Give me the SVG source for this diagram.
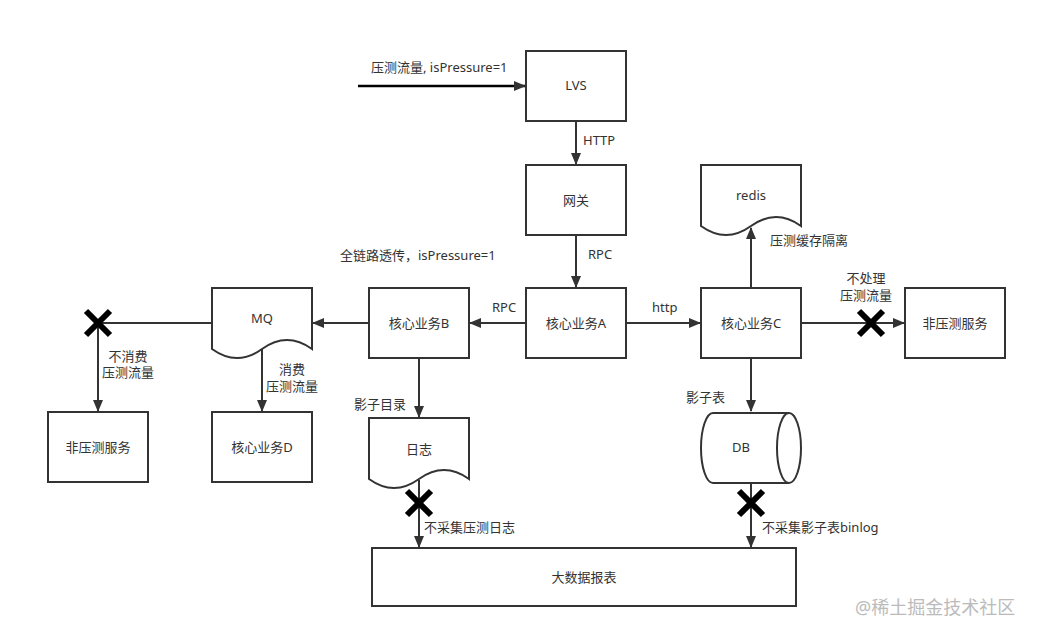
<svg xmlns="http://www.w3.org/2000/svg" width="1037" height="638" viewBox="0 0 1037 638">
<style>
.box{fill:#fff;stroke:#333;stroke-width:2}
.ln{fill:none;stroke:#333;stroke-width:2}
.x{stroke:#000;stroke-width:6;stroke-linecap:butt}
text{font-family:"Noto Sans","Noto Sans CJK SC",sans-serif;font-size:13px;fill:#333}
.c{text-anchor:middle}
.wm{font-size:18px;fill:#bbb}
</style>
<defs>
<marker id="ah" markerWidth="12" markerHeight="10" refX="11" refY="5" orient="auto" markerUnits="userSpaceOnUse">
<path d="M0,0 L12,5 L0,10 Z" fill="#333"/>
</marker>
</defs>
<rect width="1037" height="638" fill="#fff"/>
<g id="connectors">
<path class="ln" d="M358,86 H525" marker-end="url(#ah)" style="stroke:#000;stroke-width:2.5"/>
<path class="ln" d="M576,121 V164" marker-end="url(#ah)"/>
<path class="ln" d="M576,235 V287" marker-end="url(#ah)"/>
<path class="ln" d="M526,323 H470" marker-end="url(#ah)"/>
<path class="ln" d="M626,323 H700" marker-end="url(#ah)"/>
<path class="ln" d="M369,323 H313" marker-end="url(#ah)"/>
<path class="ln" d="M212,323 H98 V411" marker-end="url(#ah)"/>
<path class="ln" d="M262,349 V411" marker-end="url(#ah)"/>
<path class="ln" d="M419,358 V417" marker-end="url(#ah)"/>
<path class="ln" d="M419,480 V547" marker-end="url(#ah)"/>
<path class="ln" d="M751,358 V411" marker-end="url(#ah)"/>
<path class="ln" d="M751,483 V547" marker-end="url(#ah)"/>
<path class="ln" d="M751,288 V228" marker-end="url(#ah)"/>
<path class="ln" d="M801,323 H904" marker-end="url(#ah)"/>
<g class="x">
<path d="M86,311 L110,335 M110,311 L86,335"/>
<path d="M407,491 L431,515 M431,491 L407,515"/>
<path d="M739,491 L763,515 M763,491 L739,515"/>
<path d="M859,311 L883,335 M883,311 L859,335"/>
</g>
<text x="371" y="72">压测流量, isPressure=1</text>
<text x="583" y="145">HTTP</text>
<text x="588" y="259">RPC</text>
<text x="492" y="312">RPC</text>
<text x="652" y="312">http</text>
<text x="340" y="260">全链路透传，isPressure=1</text>
<text x="128" y="361" class="c">不消费</text>
<text x="128" y="377" class="c">压测流量</text>
<text x="292" y="374" class="c">消费</text>
<text x="292" y="391" class="c">压测流量</text>
<text x="354" y="409">影子目录</text>
<text x="424" y="532">不采集压测日志</text>
<text x="686" y="402">影子表</text>
<text x="762" y="532">不采集影子表binlog</text>
<text x="770" y="245">压测缓存隔离</text>
<text x="866" y="283" class="c">不处理</text>
<text x="866" y="300" class="c">压测流量</text>
</g>
<g id="lvs"><rect class="box" x="526" y="51" width="100" height="70"/><text x="576" y="90" class="c">LVS</text></g>
<g id="gateway"><rect class="box" x="526" y="165" width="100" height="70"/><text x="576" y="205" class="c">网关</text></g>
<g id="coreA"><rect class="box" x="526" y="288" width="100" height="70"/><text x="576" y="328" class="c">核心业务A</text></g>
<g id="coreB"><rect class="box" x="369" y="288" width="100" height="70"/><text x="419" y="328" class="c">核心业务B</text></g>
<g id="coreC"><rect class="box" x="701" y="288" width="100" height="70"/><text x="751" y="328" class="c">核心业务C</text></g>
<g id="mq"><path class="box" d="M212,288 H312 V349 Q287,331 262,349 Q237,367 212,349 Z"/><text x="262" y="323" class="c">MQ</text></g>
<g id="redis"><path class="box" d="M701,165 H801 V226 Q776,208 751,226 Q726,244 701,226 Z"/><text x="751" y="200" class="c">redis</text></g>
<g id="log"><path class="box" d="M369,418 H469 V479 Q444,461 419,479 Q394,497 369,479 Z"/><text x="419" y="454" class="c">日志</text></g>
<g id="db"><path class="box" d="M713,413 H789 A12,35 0 0 1 789,483 H713 A12,35 0 0 1 713,413 Z"/><path class="ln" d="M789,413 A12,35 0 0 0 789,483"/><text x="741" y="452" class="c">DB</text></g>
<g id="nonPressLeft"><rect class="box" x="48" y="412" width="100" height="70"/><text x="98" y="452" class="c">非压测服务</text></g>
<g id="coreD"><rect class="box" x="212" y="412" width="100" height="70"/><text x="262" y="452" class="c">核心业务D</text></g>
<g id="nonPressRight"><rect class="box" x="905" y="288" width="100" height="70"/><text x="955" y="328" class="c">非压测服务</text></g>
<g id="bigdata"><rect class="box" x="372" y="548" width="424" height="58"/><text x="584" y="582" class="c">大数据报表</text></g>
<text x="855" y="614" class="wm">@稀土掘金技术社区</text>
</svg>
